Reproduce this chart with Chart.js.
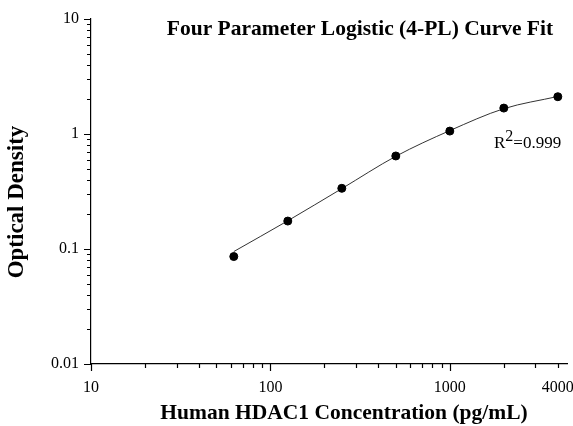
<!DOCTYPE html>
<html>
<head>
<meta charset="utf-8">
<script src="https://cdn.jsdelivr.net/npm/chart.js@4.4.1/dist/chart.umd.min.js"></script>
<style>
  body { margin: 0; background: #fff; }
</style>
</head>
<body>
<canvas id="myChart" width="573" height="426"></canvas>
<script>
// standard concentrations (pg/mL) and measured OD
const concentrations = [62.5, 125, 250, 500, 1000, 2000, 4000];
const opticalDensity = [0.086, 0.175, 0.337, 0.644, 1.06, 1.68, 2.11];
// fitted 4-PL curve at the same concentrations
const fitValues = [0.095, 0.176, 0.335, 0.64, 1.07, 1.66, 2.12];

const xTickLabels = [10, 100, 1000, 4000];
const yTickLabels = [0.01, 0.1, 1, 10];
const rSquared = '0.999';

const serif = "'Liberation Serif', 'Times New Roman', serif";

function logTicks(min, max) {
    const out = [];
    for (let d = min; d < max; d *= 10) {
        for (let m = 1; m < 10; m++) {
            const v = +(d * m).toPrecision(3);
            if (v <= max) out.push(v);
        }
    }
    if (out[out.length - 1] !== max) out.push(max);
    return out;
}
const xTicks = logTicks(10, 1000).concat([2000, 3000, 4000]);
const yTicks = logTicks(0.01, 10);

const isDecade = v => Math.abs(Math.log10(v) - Math.round(Math.log10(v))) < 1e-6;

// short/long tick marks and the free texts
const decorPlugin = {
    id: 'decor',
    afterDraw(chart) {
        const ctx = chart.ctx;
        const area = chart.chartArea;
        const xs = chart.scales.x, ys = chart.scales.y;
        ctx.save();
        ctx.strokeStyle = '#000';
        ctx.lineWidth = 1.2;
        ctx.beginPath();
        xTicks.forEach(v => {
            const px = Math.round(xs.getPixelForValue(v)) + 0.5;
            const len = isDecade(v) ? 7 : 4;
            ctx.moveTo(px, area.bottom);
            ctx.lineTo(px, area.bottom + len);
        });
        yTicks.forEach(v => {
            const py = Math.round(ys.getPixelForValue(v)) + 0.5;
            const len = isDecade(v) ? 7 : 4;
            ctx.moveTo(area.left, py);
            ctx.lineTo(area.left - len, py);
        });
        ctx.stroke();

        ctx.fillStyle = '#000';
        ctx.textBaseline = 'alphabetic';
        ctx.textAlign = 'center';
        ctx.font = 'bold 21.5px ' + serif;
        ctx.fillText('Four Parameter Logistic (4-PL) Curve Fit', 360, 35);

        ctx.font = 'bold 21.5px ' + serif;
        ctx.fillText('Human HDAC1 Concentration (pg/mL)', 344, 419);

        ctx.save();
        ctx.translate(23, 202);
        ctx.rotate(-Math.PI / 2);
        ctx.font = 'bold 23px ' + serif;
        ctx.fillText('Optical Density', 0, 0);
        ctx.restore();

        ctx.textAlign = 'left';
        ctx.font = '17px ' + serif;
        let x = 494;
        ctx.fillText('R', x, 148);
        x += ctx.measureText('R').width;
        ctx.font = '16px ' + serif;
        ctx.fillText('2', x, 141);
        x += ctx.measureText('2').width;
        ctx.font = '17px ' + serif;
        ctx.fillText('=' + rSquared, x, 148);
        ctx.restore();
    }
};

const ctx = document.getElementById('myChart').getContext('2d');
const curveChart = new Chart(ctx, {
    type: 'scatter',
    data: {
        datasets: [{
            label: 'Fit',
            data: concentrations.map((c, i) => ({ x: c, y: fitValues[i] })),
            showLine: true,
            borderColor: '#333',
            borderWidth: 1,
            pointRadius: 0,
            cubicInterpolationMode: 'monotone',
            order: 2
        }, {
            label: 'Standards',
            data: concentrations.map((c, i) => ({ x: c, y: opticalDensity[i] })),
            backgroundColor: '#000',
            borderColor: '#000',
            pointRadius: 4,
            order: 1
        }]
    },
    plugins: [decorPlugin],
    options: {
        responsive: false,
        animation: false,
        layout: { padding: { left: 0, top: 19, right: 6, bottom: 0 } },
        plugins: {
            legend: { display: false },
            tooltip: { enabled: false }
        },
        scales: {
            x: {
                type: 'logarithmic',
                min: 10,
                max: 4500,
                afterBuildTicks: s => { s.ticks = xTicks.map(v => ({ value: v })); },
                afterFit: s => { s.height = 62; s.paddingLeft = 0; s.paddingRight = 0; },
                grid: { display: false },
                border: { display: true, color: '#000', width: 1.2 },
                ticks: {
                    autoSkip: false,
                    maxRotation: 0,
                    padding: 6,
                    color: '#000',
                    font: { family: serif, size: 16 },
                    callback: v => xTickLabels.includes(v) ? String(v) : ''
                }
            },
            y: {
                type: 'logarithmic',
                min: 0.01,
                max: 10,
                afterBuildTicks: s => { s.ticks = yTicks.map(v => ({ value: v })); },
                afterFit: s => { s.width = 91; s.paddingTop = 0; s.paddingBottom = 0; },
                grid: { display: false },
                border: { display: true, color: '#000', width: 1.2 },
                ticks: {
                    autoSkip: false,
                    padding: 4,
                    color: '#000',
                    font: { family: serif, size: 16 },
                    callback: v => yTickLabels.includes(v) ? String(v) : ''
                }
            }
        }
    }
});
</script>
</body>
</html>
